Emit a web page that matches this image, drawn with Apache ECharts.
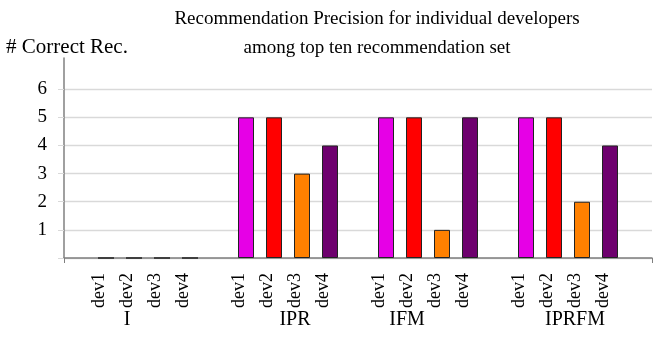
<!DOCTYPE html>
<html>
<head>
<meta charset="utf-8">
<script src="https://cdn.jsdelivr.net/npm/echarts@6/dist/echarts.min.js"></script>
<style>
html,body{margin:0;padding:0;background:#fff;}
#chart{width:657px;height:351px;}
</style>
</head>
<body>
<div id="chart"></div>
<script>
// ---- data ----
const titleLines = ['Recommendation Precision for individual developers', 'among top ten recommendation set'];
const yAxisName = '# Correct Rec.';
const groups = ['I', 'IPR', 'IFM', 'IPRFM'];
const devs = ['dev1', 'dev2', 'dev3', 'dev4'];
const valuesI = [0, 0, 0, 0];
const valuesIPR = [5, 5, 3, 4];
const valuesIFM = [5, 5, 1, 5];
const valuesIPRFM = [5, 5, 2, 4];
const yTickLabels = [1, 2, 3, 4, 5, 6];
const devColors = ['#E600E6', '#FF0000', '#FF8000', '#6E006E'];

// ---- build category layout: blank slot, 4 devs per group, blank slots between ----
const groupValues = [valuesI, valuesIPR, valuesIFM, valuesIPRFM];
const cats = [''];
const barData = ['-'];
groups.forEach((g, gi) => {
  devs.forEach((d, di) => {
    cats.push(d);
    barData.push({ value: groupValues[gi][di], itemStyle: { color: devColors[di] } });
  });
  cats.push('');
  barData.push('-');
});
// second (label) axis uses half-slot resolution
const groupSlots = [4, 16, 24, 36];
const groupCats = new Array(cats.length * 2).fill('');
groups.forEach((g, i) => { groupCats[groupSlots[i]] = g; });

const FONT = 'Liberation Serif';
const yMax = 7.11;

const chart = echarts.init(document.getElementById('chart'), null, { renderer: 'canvas' });
chart.setOption({
  animation: false,
  backgroundColor: '#fff',
  title: {
    text: titleLines.join('\n'),
    left: 372,
    top: 0,
    textAlign: 'center',
    textStyle: { fontFamily: FONT, fontSize: 19, fontWeight: 'normal', color: '#000', lineHeight: 29 }
  },
  grid: { left: 64, right: 5, top: 58, bottom: 93, containLabel: false },
  xAxis: [
    {
      type: 'category',
      data: cats,
      position: 'bottom',
      axisLine: { show: true, lineStyle: { color: '#7f7f7f', width: 1.5 } },
      axisTick: { show: true, alignWithLabel: false, interval: (i) => i === 0, length: 5, lineStyle: { color: '#7f7f7f' } },
      axisLabel: {
        interval: 0, rotate: 90, margin: 15,
        fontFamily: FONT, fontSize: 18, color: '#000',
        verticalAlign: 'bottom', lineHeight: 14
      },
      splitLine: { show: false }
    },
    {
      type: 'category',
      data: groupCats,
      position: 'bottom',
      axisLine: { show: false },
      axisTick: { show: false },
      axisLabel: { interval: 0, margin: 52, fontFamily: FONT, fontSize: 20, color: '#000' },
      splitLine: { show: false }
    }
  ],
  yAxis: {
    type: 'value',
    min: 0, max: yMax, interval: 1,
    name: yAxisName,
    nameLocation: 'end',
    nameGap: 0,
    nameTextStyle: { fontFamily: FONT, fontSize: 21, color: '#000', align: 'center', padding: [0, 0, 0, 6] },
    axisLine: { show: true, lineStyle: { color: '#808080', width: 1.5 } },
    axisTick: { show: true, length: 6, customValues: [0].concat(yTickLabels), lineStyle: { color: '#d9d9d9' } },
    axisLabel: {
      customValues: yTickLabels,
      margin: 17, fontFamily: FONT, fontSize: 19, color: '#000',
      formatter: (v) => (yTickLabels.indexOf(v) >= 0 ? String(v) : '')
    },
    splitLine: {
      show: true,
      lineStyle: { color: ['#d9d9d9', '#d9d9d9', '#d9d9d9', '#d9d9d9', '#d9d9d9', '#d9d9d9', '#d9d9d9', 'rgba(0,0,0,0)', 'rgba(0,0,0,0)'], width: 1.3 }
    }
  },
  series: [{
    type: 'bar',
    xAxisIndex: 0,
    data: barData,
    barWidth: 16,
    itemStyle: { borderColor: '#222', borderWidth: 1 }
  }]
});
</script>
</body>
</html>
